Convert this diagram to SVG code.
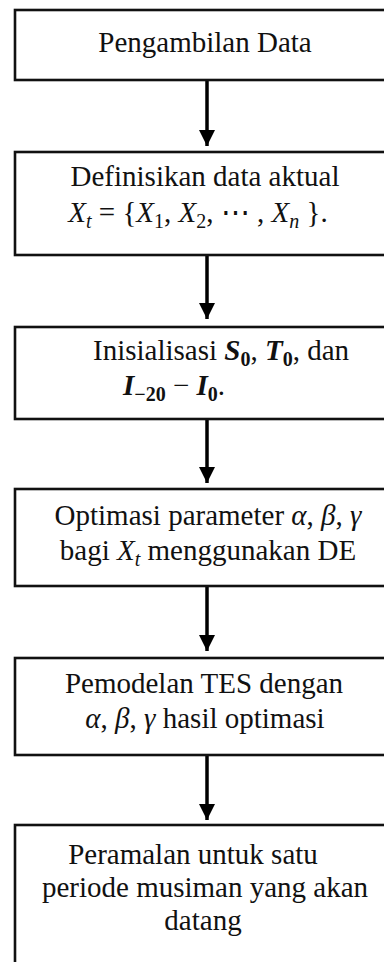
<svg xmlns="http://www.w3.org/2000/svg" width="384" height="962" viewBox="0 0 384 962">
<style>
.box{fill:#fff;stroke:#111;stroke-width:2.6}
.t{font-family:"Liberation Serif","Times New Roman",serif;font-size:29px;fill:#111;text-anchor:middle}
.ts{font-family:"Liberation Serif","Times New Roman",serif;font-size:29px;fill:#111}
.i{font-style:italic}
.b{font-weight:bold;font-style:italic}
.sub{font-size:20px}
.arr{stroke:#000;stroke-width:3.5;fill:none}
</style>
<defs>
<marker id="ah" markerUnits="userSpaceOnUse" markerWidth="16" markerHeight="16" viewBox="0 0 16 16" refX="16" refY="8" orient="auto">
<path d="M0,0 L16,8 L0,16 Z" fill="#000"/>
</marker>
</defs>
<rect width="384" height="962" fill="#fff"/>
<g id="connectors">
<line class="arr" x1="207" y1="81" x2="207" y2="146" marker-end="url(#ah)"/>
<line class="arr" x1="207" y1="256" x2="207" y2="319" marker-end="url(#ah)"/>
<line class="arr" x1="207" y1="420" x2="207" y2="483" marker-end="url(#ah)"/>
<line class="arr" x1="207" y1="587" x2="207" y2="651" marker-end="url(#ah)"/>
<line class="arr" x1="207" y1="756" x2="207" y2="820" marker-end="url(#ah)"/>
</g>
<g id="n1">
<rect class="box" x="15" y="10" width="384" height="70"/>
<text class="t" x="205" y="52">Pengambilan Data</text>
</g>
<g id="n2">
<rect class="box" x="15" y="152" width="384" height="103"/>
<text class="t" x="205" y="186">Definisikan data aktual</text>
<text class="t" x="198" y="222"><tspan class="i">X</tspan><tspan class="sub i" dy="6">t</tspan><tspan dy="-6"> = {</tspan><tspan class="i">X</tspan><tspan class="sub" dy="6">1</tspan><tspan dy="-6">,  </tspan><tspan class="i">X</tspan><tspan class="sub" dy="6">2</tspan><tspan dy="-6">, ⋯ , </tspan><tspan class="i">X</tspan><tspan class="sub i" dy="6">n</tspan><tspan dy="-6"> }.</tspan></text>
</g>
<g id="n3">
<rect class="box" x="15" y="327" width="384" height="92"/>
<text class="ts" x="93" y="360">Inisialisasi <tspan class="b">S</tspan><tspan class="sub" font-weight="bold" dy="6">0</tspan><tspan dy="-6">, </tspan><tspan class="b">T</tspan><tspan class="sub" font-weight="bold" dy="6">0</tspan><tspan dy="-6">, dan</tspan></text>
<text class="ts" x="123" y="395"><tspan class="b">I</tspan><tspan class="sub" font-weight="bold" dy="6">−20</tspan><tspan dy="-6"> − </tspan><tspan class="b">I</tspan><tspan class="sub" font-weight="bold" dy="6">0</tspan><tspan dy="-6">.</tspan></text>
</g>
<g id="n4">
<rect class="box" x="15" y="489" width="384" height="97"/>
<text class="t" x="208" y="525">Optimasi parameter <tspan class="i">α</tspan>, <tspan class="i">β</tspan>, <tspan class="i">γ</tspan></text>
<text class="t" x="208" y="560">bagi <tspan class="i">X</tspan><tspan class="sub i" dy="6">t</tspan><tspan dy="-6"> menggunakan DE</tspan></text>
</g>
<g id="n5">
<rect class="box" x="15" y="658" width="384" height="97"/>
<text class="t" x="204" y="693">Pemodelan TES dengan</text>
<text class="t" x="205" y="728"><tspan class="i">α</tspan>, <tspan class="i">β</tspan>, <tspan class="i">γ</tspan> hasil optimasi</text>
</g>
<g id="n6">
<rect class="box" x="15" y="825" width="384" height="160"/>
<text class="t" x="193" y="864">Peramalan untuk satu</text>
<text class="t" x="205" y="897">periode musiman yang akan</text>
<text class="t" x="203" y="930">datang</text>
</g>
</svg>
